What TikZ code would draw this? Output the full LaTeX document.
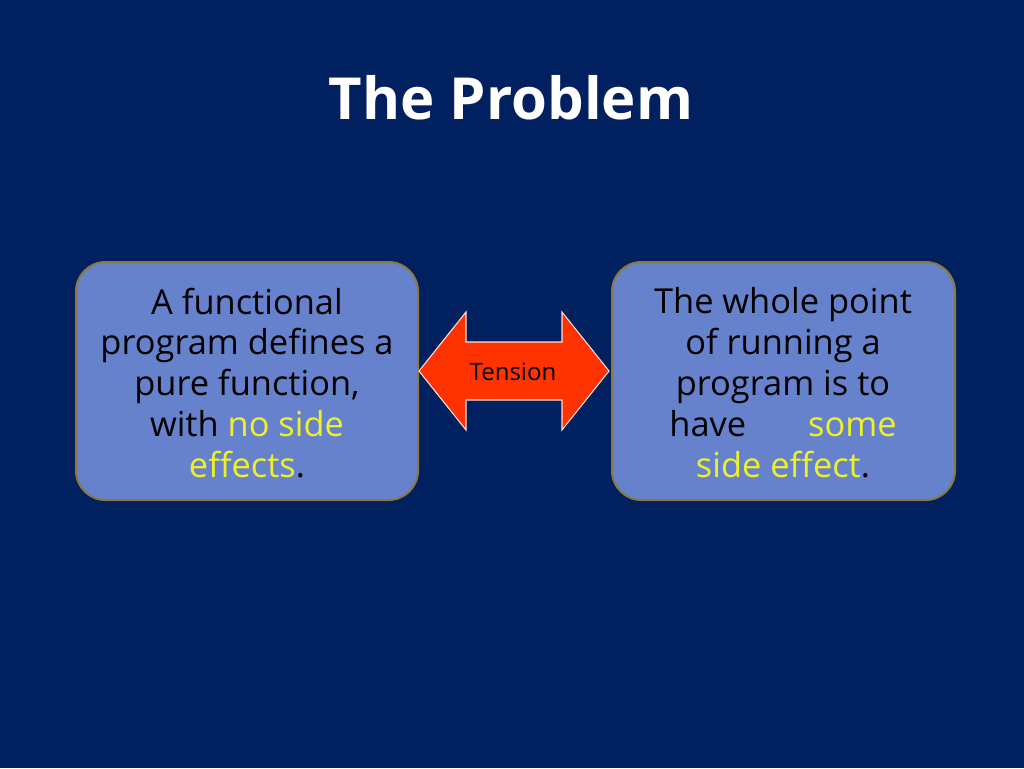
\documentclass[tikz,border=0pt]{standalone}
\usepackage{fontspec}
\setmainfont{Open Sans}
\definecolor{bg}{RGB}{0,32,96}
\definecolor{boxf}{RGB}{102,130,204}
\definecolor{boxd}{RGB}{140,120,60}
\definecolor{hl}{RGB}{240,240,40}
\definecolor{arr}{RGB}{255,51,0}
\begin{document}
\begin{tikzpicture}[x=0.75pt,y=-0.75pt,
  box/.style={draw=boxd,line width=1.5pt,fill=boxf,rounded corners=22pt},
  txt/.style={align=center,font=\fontsize{25.8}{30.7}\selectfont,text=black}]
\fill[bg] (0,0) rectangle (1024,768);
\useasboundingbox (0,0) rectangle (1024,768);
\node[text=white,font=\fontsize{43.5}{50}\selectfont\bfseries] (title) at (511,98) {The Problem};
\draw[box] (76,262) rectangle (418,500);
\node[txt] (lt) at (247,383) {A functional\\program defines a\\pure function,\\with \textcolor{hl}{no side}\\\textcolor{hl}{effects}.};
\draw[box] (612,262) rectangle (955,500);
\node[txt] (rt) at (783,383) {The whole point\\of running a\\program is to\\have\hspace{1.8em}\textcolor{hl}{some}\\\textcolor{hl}{side effect}.};
\draw[fill=arr,draw=white!85!arr,line width=0.8pt] (419,371) -- (466,312) -- (466,342) -- (562,342) -- (562,312) -- (609,371) -- (562,430) -- (562,400) -- (466,400) -- (466,430) -- cycle;
\node[font=\fontsize{18}{20}\selectfont,text=black] (ten) at (513,372) {Tension};
\end{tikzpicture}
\end{document}
